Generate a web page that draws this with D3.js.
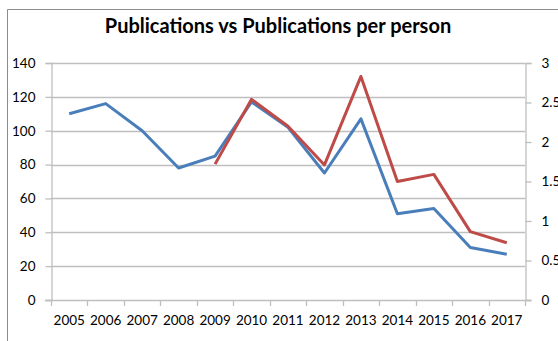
<!DOCTYPE html>
<html>
<head>
<meta charset="utf-8">
<script src="https://cdn.jsdelivr.net/npm/d3@7"></script>
<style>
  html, body { margin: 0; padding: 0; background: #fff; }
  svg { display: block; }
  text { font-family: Lato, "Open Sans", sans-serif; fill: #000; }
</style>
</head>
<body>
<svg id="chart" width="558" height="341"></svg>
<script>
// Years on the category axis
const years = ["2005","2006","2007","2008","2009","2010","2011","2012","2013","2014","2015","2016","2017"];
// Total publications (left axis)
const publications = [110, 116, 100, 78, 85, 117, 102, 75, 107, 51, 54, 31, 27];
// Publications per person (right axis), recorded from 2009 on
const perPerson = [null, null, null, null, 1.72, 2.54, 2.2, 1.71, 2.83, 1.5, 1.59, 0.865, 0.725];
// Axis ticks
const leftTicks = [0, 20, 40, 60, 80, 100, 120, 140];
const rightTicks = [0, 0.5, 1, 1.5, 2, 2.5, 3];

const svg = d3.select("#chart");
const margin = { left: 51, right: 525, top: 63, bottom: 300 };
const grid = "#bfbfbf";

// Outer chart frame
svg.append("path")
  .attr("d", "M7.5,341 V9.5 H558")
  .attr("fill", "none")
  .attr("stroke", "#8c8c8c")
  .attr("stroke-width", 1);

svg.append("text")
  .attr("x", 278).attr("y", 33)
  .attr("text-anchor", "middle")
  .attr("font-size", 20)
  .attr("font-weight", "bold")
  .text("Publications vs Publications per person");

const x = d3.scaleBand().domain(years).range([margin.left, margin.right]);
const yL = d3.scaleLinear().domain([0, 140]).range([margin.bottom, margin.top]);
const yR = d3.scaleLinear().domain([0, 3]).range([margin.bottom, margin.top]);

// Horizontal gridlines
svg.append("g").selectAll("line").data(leftTicks.slice(1)).join("line")
  .attr("x1", margin.left).attr("x2", margin.right)
  .attr("y1", d => Math.round(yL(d)) + 0.5).attr("y2", d => Math.round(yL(d)) + 0.5)
  .attr("stroke", grid).attr("stroke-width", 1.3);

function styleAxis(g) {
  g.selectAll(".domain").attr("stroke", grid).attr("stroke-width", 1.3);
  g.selectAll(".tick line").attr("stroke", grid).attr("stroke-width", 1.3);
  g.selectAll(".tick text").attr("font-family", "Lato, 'Open Sans', sans-serif").attr("font-size", 13.5).attr("fill", "#000");
}

// Left axis
svg.append("g")
  .attr("transform", `translate(${margin.left + 0.5},0)`)
  .call(d3.axisLeft(yL).tickValues(leftTicks).tickSizeOuter(0).tickSize(6).tickPadding(10))
  .call(styleAxis);

// Right axis
svg.append("g")
  .attr("transform", `translate(${margin.right + 0.5},0)`)
  .call(d3.axisRight(yR).tickValues(rightTicks).tickFormat(d3.format("")).tickSizeOuter(0).tickSize(6).tickPadding(10))
  .call(styleAxis);

// Category axis with ticks between years
const xAxis = svg.append("g")
  .attr("transform", `translate(0,${margin.bottom + 0.5})`)
  .call(d3.axisBottom(x).tickSize(0).tickPadding(15))
  .call(styleAxis);
xAxis.selectAll(".domain").remove();
svg.append("line")
  .attr("x1", margin.left - 6).attr("x2", margin.right + 6)
  .attr("y1", margin.bottom + 0.5).attr("y2", margin.bottom + 0.5)
  .attr("stroke", grid).attr("stroke-width", 1.3);
const bounds = years.map(y => x(y)).concat([margin.right]);
svg.append("g").selectAll("line").data(bounds).join("line")
  .attr("x1", d => Math.round(d) + 0.5).attr("x2", d => Math.round(d) + 0.5)
  .attr("y1", margin.bottom).attr("y2", margin.bottom + 6)
  .attr("stroke", grid).attr("stroke-width", 1.3);

const cx = d => x(d) + x.bandwidth() / 2;

// Publications line
svg.append("path")
  .datum(years.map((y, i) => [y, publications[i]]))
  .attr("fill", "none")
  .attr("stroke", "#4a7ebb")
  .attr("stroke-width", 3)
  .attr("stroke-linejoin", "round")
  .attr("d", d3.line().x(d => cx(d[0])).y(d => yL(d[1])));

// Publications per person line
svg.append("path")
  .datum(years.map((y, i) => [y, perPerson[i]]))
  .attr("fill", "none")
  .attr("stroke", "#be4b48")
  .attr("stroke-width", 3)
  .attr("stroke-linejoin", "round")
  .attr("d", d3.line().defined(d => d[1] != null).x(d => cx(d[0])).y(d => yR(d[1])));
</script>
</body>
</html>
